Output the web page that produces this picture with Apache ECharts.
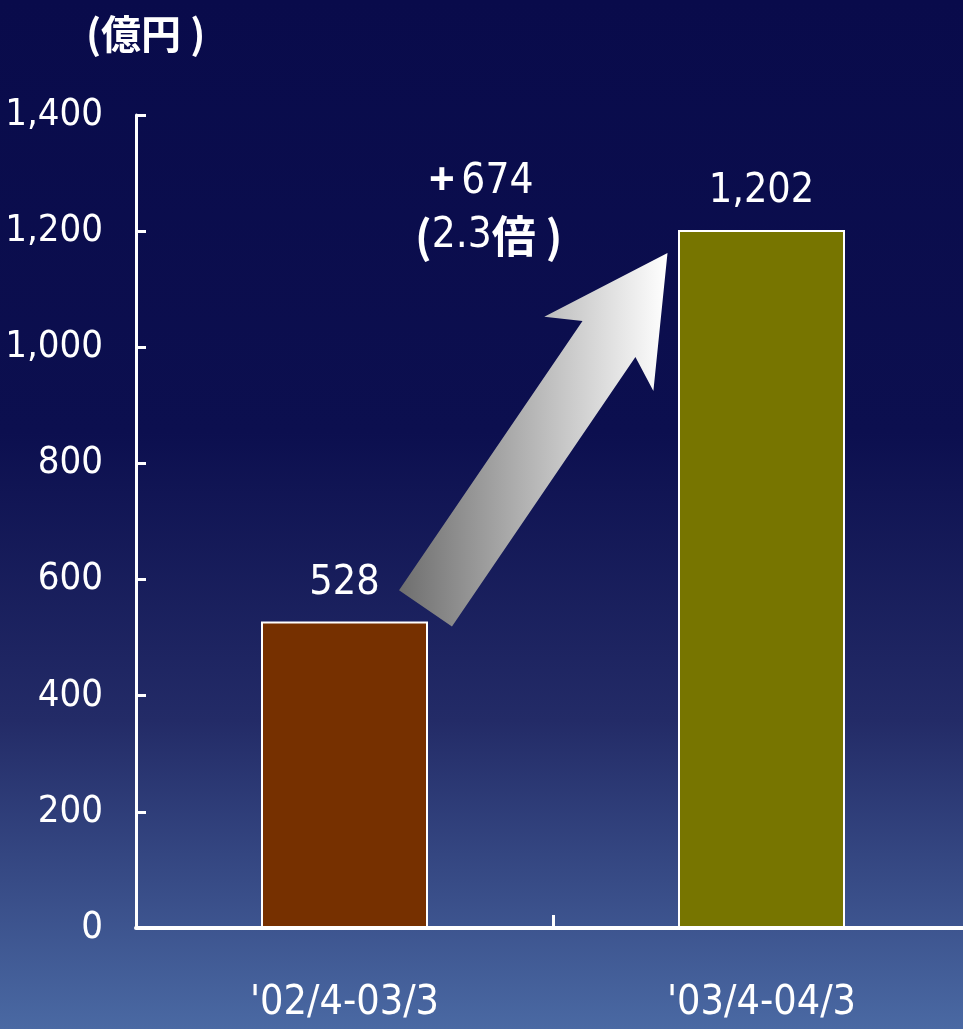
<!DOCTYPE html>
<html><head><meta charset="utf-8">
<script src="https://cdn.jsdelivr.net/npm/echarts@6/dist/echarts.min.js"></script>
<style>html,body{margin:0;padding:0;}#c{width:963px;height:1029px;}</style>
</head><body><div id="c"></div>
<script>
const categories = ["'02/4-03/3", "'03/4-04/3"];
const values = [528, 1202];
const barColors = ['#763000', '#777500'];
const yTicks = [0, 200, 400, 600, 800, 1000, 1200, 1400];
const unitLabel = '(億円 )';
const diffLabel = '+674';
const ratioLabel = '2.3';

const NARROW = "'Liberation Sans Narrow','DejaVu Sans Condensed','Liberation Sans',sans-serif";
const chart = echarts.init(document.getElementById('c'));
const fmt = v => v.toLocaleString('en-US');
chart.setOption({
  backgroundColor: {
    type: 'linear', x: 0, y: 0, x2: 0, y2: 1,
    colorStops: [
      {offset: 0, color: '#090b4b'},
      {offset: 0.42, color: '#0c0f4f'},
      {offset: 0.7, color: '#232b67'},
      {offset: 1, color: '#4a69a3'}
    ]
  },
  animation: false,
  grid: {left: 136, right: -7, top: 115, bottom: 101, containLabel: false, outerBoundsMode: 'none'},
  xAxis: {
    type: 'category', data: categories, boundaryGap: true,
    axisLine: {lineStyle: {color: '#fff', width: 4}},
    axisTick: {show: true, interval: 0, inside: true, length: 13, lineStyle: {color: '#fff', width: 3}},
    axisLabel: {color: '#fff', fontFamily: NARROW, fontSize: 41, margin: 55}
  },
  yAxis: {
    type: 'value', min: yTicks[0], max: yTicks[yTicks.length - 1], interval: 200,
    splitLine: {show: false},
    axisLine: {show: true, lineStyle: {color: '#fff', width: 3}},
    axisTick: {show: true, inside: true, length: 10, lineStyle: {color: '#fff', width: 3}},
    axisLabel: {color: '#fff', fontFamily: NARROW, fontSize: 38, margin: 33, formatter: v => fmt(v)}
  },
  series: [{
    type: 'bar', barWidth: 167,
    data: values.map((v, i) => ({value: v, itemStyle: {color: barColors[i]}})),
    itemStyle: {borderColor: '#fff', borderWidth: 2},
    label: {show: true, position: 'top', distance: 18, color: '#fff', fontFamily: NARROW, fontSize: 41, formatter: p => fmt(p.value)}
  }]
});

// Arrow + annotation, anchored to the bars via the chart's scales
const p0 = chart.convertToPixel({seriesIndex: 0}, [0, values[0]]);
const p1 = chart.convertToPixel({seriesIndex: 0}, [1, values[1]]);
const tail = [p0[0] + 81, p0[1] - 13];
const tip = [p1[0] - 94, p1[1] + 23];
const dx = tip[0] - tail[0], dy = tip[1] - tail[1];
const L = Math.hypot(dx, dy);
const ux = dx / L, uy = dy / L, nx = -uy, ny = ux;
const sw = 32, hw = 66, hl = 104;
const pt = (a, b) => [tail[0] + ux * a + nx * b, tail[1] + uy * a + ny * b];
const poly = [pt(0, sw), pt(L - hl, sw), pt(L - hl - 18, hw), pt(L, 0), pt(L - hl - 18, -hw), pt(L - hl, -sw), pt(0, -sw)];
const midX = (p0[0] + p1[0]) / 2;

chart.setOption({
  graphic: [
    {type: 'polygon', shape: {points: poly}, style: {fill: {type: 'linear', x: 0, y: 0, x2: 1, y2: 0, colorStops: [{offset: 0, color: '#6e6e6e'}, {offset: 1, color: '#ffffff'}]}}},
    {type: 'text', x: 86, y: 14, style: {text: unitLabel, fill: '#fff', font: "bold 40px 'Noto Sans CJK JP', sans-serif"}},
    {type: 'text', x: midX - 124, y: p1[1] - 70, style: {
      text: '{b|+}  {n|' + diffLabel.slice(1) + '}', fill: '#fff',
      rich: {b: {fontSize: 44, fontWeight: 'bold', fontFamily: 'Liberation Sans, sans-serif', fill: '#fff'}, n: {fontSize: 42, fontFamily: NARROW, fill: '#fff'}}
    }},
    {type: 'text', x: midX - 138, y: p1[1] - 16, style: {
      text: '{p|(}{n|' + ratioLabel + '}{k|倍 )}', fill: '#fff',
      rich: {p: {fontSize: 44, fontWeight: 'bold', fontFamily: "'Noto Sans CJK JP', sans-serif", fill: '#fff'}, n: {fontSize: 42, fontFamily: NARROW, fill: '#fff'}, k: {fontSize: 44, fontWeight: 'bold', fontFamily: "'Noto Sans CJK JP', sans-serif", fill: '#fff'}}
    }}
  ]
});
</script></body></html>
